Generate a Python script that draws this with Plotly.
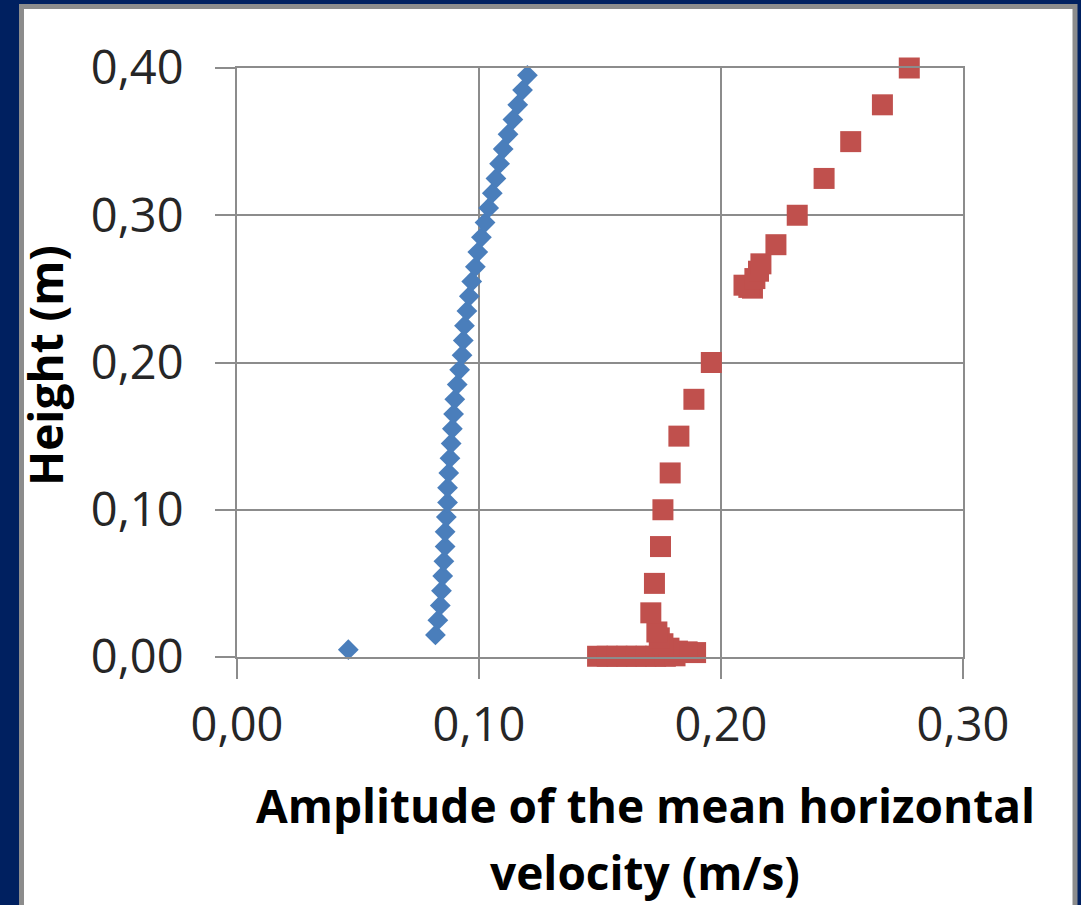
import plotly.graph_objects as go

# Profile of the mean horizontal velocity amplitude: blue series
blue_height = [0.005, 0.015, 0.025, 0.035, 0.045, 0.055, 0.065, 0.075, 0.085, 0.095,
               0.105, 0.115, 0.125, 0.135, 0.145, 0.155, 0.165, 0.175, 0.185, 0.195,
               0.205, 0.215, 0.225, 0.235, 0.245, 0.255, 0.265, 0.275, 0.285, 0.295,
               0.305, 0.315, 0.325, 0.335, 0.345, 0.355, 0.365, 0.375, 0.385, 0.395]
blue_velocity = [0.046, 0.082, 0.083, 0.084, 0.0845, 0.085, 0.0855, 0.086, 0.086, 0.0865,
                 0.087, 0.087, 0.0875, 0.088, 0.0885, 0.089, 0.0895, 0.090, 0.091, 0.092,
                 0.093, 0.0935, 0.094, 0.095, 0.096, 0.097, 0.0985, 0.0995, 0.101, 0.1025,
                 0.104, 0.1055, 0.107, 0.1085, 0.110, 0.112, 0.114, 0.116, 0.118, 0.120]

# Red series
red_height = [0.0005, 0.0005, 0.0005, 0.0005, 0.0005, 0.0005, 0.0005, 0.0005, 0.0008,
              0.003, 0.0035, 0.004, 0.006, 0.009, 0.013, 0.017,
              0.030, 0.050, 0.075, 0.100, 0.125, 0.150, 0.175, 0.200,
              0.2505, 0.251, 0.2525, 0.257, 0.262, 0.267,
              0.280, 0.300, 0.325, 0.350, 0.375, 0.400]
red_velocity = [0.149, 0.153, 0.157, 0.161, 0.165, 0.169, 0.173, 0.177, 0.181,
                0.1895, 0.186, 0.182, 0.1785, 0.176, 0.1745, 0.1735,
                0.171, 0.1725, 0.175, 0.176, 0.179, 0.1826, 0.1888, 0.196,
                0.213, 0.2115, 0.2095, 0.214, 0.2155, 0.2165,
                0.2227, 0.2315, 0.2426, 0.2536, 0.2667, 0.2778]

x_ticks = [0.0, 0.1, 0.2, 0.3]
x_tick_labels = ["0,00", "0,10", "0,20", "0,30"]
y_ticks = [0.0, 0.1, 0.2, 0.3, 0.4]
y_tick_labels = ["0,00", "0,10", "0,20", "0,30", "0,40"]

W, H = 1081, 905
L, R, T, B = 237, 963, 68, 657   # plot area in pixels


def px(x):
    return (x - L) / (R - L)


def py(y):
    return (B - y) / (B - T)


grid = "#8c8c8c"
fig = go.Figure()
fig.add_trace(go.Scatter(
    x=blue_velocity, y=blue_height, mode="markers", cliponaxis=False,
    marker=dict(symbol="diamond", size=16, color="#4a7ebb", line=dict(width=0)),
    showlegend=False))
fig.add_trace(go.Scatter(
    x=red_velocity, y=red_height, mode="markers", cliponaxis=False,
    marker=dict(symbol="square", size=21, color="#c0504d", line=dict(width=0)),
    showlegend=False))

tickfont = dict(family="Open Sans", size=47, color="#262626")
fig.update_xaxes(range=[0, 0.3], tickvals=x_ticks, ticktext=x_tick_labels,
                 showgrid=True, gridcolor=grid, gridwidth=2, zeroline=False,
                 showline=True, linecolor=grid, linewidth=2, mirror=True,
                 ticks="outside", ticklen=20, tickwidth=2, tickcolor=grid,
                 tickfont=tickfont, ticklabelstandoff=6)
fig.update_yaxes(range=[0, 0.4], tickvals=y_ticks, ticktext=y_tick_labels,
                 showgrid=True, gridcolor=grid, gridwidth=2, zeroline=False,
                 showline=True, linecolor=grid, linewidth=2, mirror=True,
                 ticks="outside", ticklen=20, tickwidth=2, tickcolor=grid,
                 tickfont=tickfont, ticklabelstandoff=22)

titlefont = dict(family="Open Sans", size=46, color="#000000", weight="bold")
fig.add_annotation(x=px(45), y=py(366), xref="paper", yref="paper",
                   text="Height (m)", textangle=-90, showarrow=False,
                   font=titlefont, xanchor="center", yanchor="middle")
fig.add_annotation(x=px(645), y=py(805), xref="paper", yref="paper",
                   text="Amplitude of the mean horizontal",
                   showarrow=False, font=titlefont,
                   xanchor="center", yanchor="middle")
fig.add_annotation(x=px(645), y=py(872), xref="paper", yref="paper",
                   text="velocity (m/s)",
                   showarrow=False, font=titlefont,
                   xanchor="center", yanchor="middle")

# white panel framed by a gray edge on the dark blue background
fig.add_shape(type="rect", xref="paper", yref="paper", layer="below",
              x0=px(21.5), x1=px(1075), y0=py(920), y1=py(6.5),
              fillcolor="white", line=dict(color="#8c8c8c", width=5))

fig.update_layout(width=W, height=H, paper_bgcolor="#002060", plot_bgcolor="white",
                  margin=dict(l=L, r=W - R, t=T, b=H - B))
fig.write_html("out.html")
